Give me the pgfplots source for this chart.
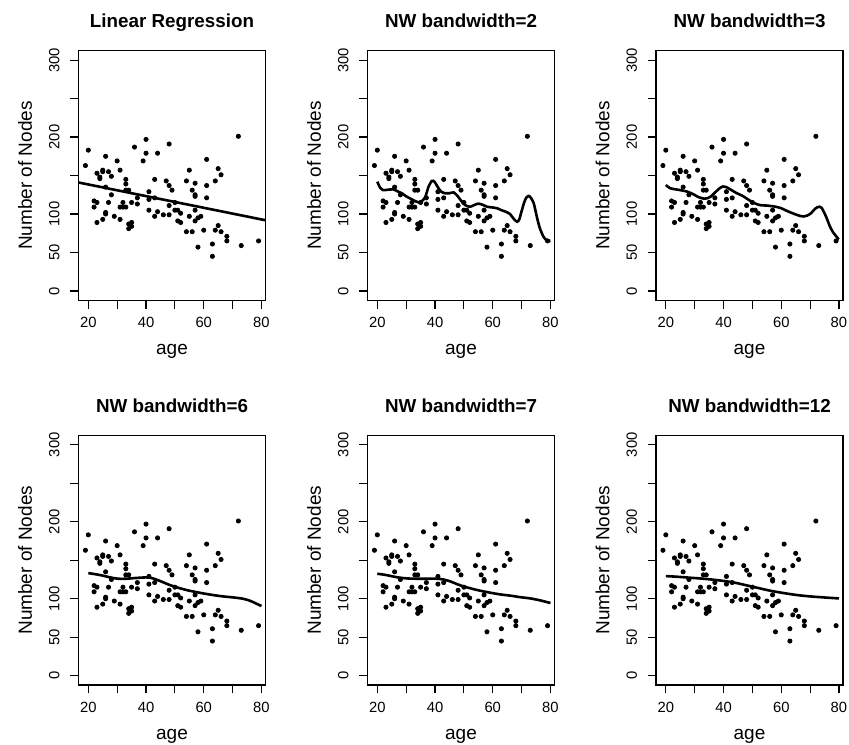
\documentclass[border=0pt]{standalone}
\usepackage{fontspec}
\setmainfont{Liberation Sans}
\usepackage{pgfplots}
\usepackage{pgfplotstable}
\pgfplotsset{compat=1.18}

\pgfplotstableread{
x y
19 163
20 183
22 109
22 117
23 115
23 89
23 153
24 148
24 146
25 157
25 155
25 93
26 100
26 102
26 175
26 135
27 155
27 115
28 149
28 125
29 97
30 169
31 109
31 157
31 93
32 109
33 109
32 115
33 145
33 139
33 131
34 131
34 87
34 81
35 89
35 84
35 115
36 187
37 121
37 113
39 169
40 197
40 179
41 129
41 119
41 105
43 145
43 121
43 97
44 103
44 179
46 99
47 143
48 137
48 191
48 111
48 99
49 131
50 115
50 105
51 105
51 91
52 101
52 89
54 143
54 77
55 157
55 97
56 131
56 77
57 140
57 125
57 123
57 105
57 91
58 95
59 97
58 57
60 79
61 171
61 137
61 121
63 61
63 45
64 143
64 79
65 159
65 85
66 151
66 77
68 71
68 65
72 201
73 59
79 65
}\pts

\pgfplotstableread{
x y
16.6 141.0
81.4 91.9
}\lin

\pgfplotstableread{
x y
20 142
21 134
22 131
23.5 131.5
25.5 132
27 129.5
28.5 127
30 123
31.5 120
33 117
34.5 115
35.5 117
36.6 122
37.8 136
38.9 143
39.8 142
40.8 136
42 129.5
43.5 127
45 127
46.5 128
48 122.5
49.5 115
50.7 111
52.2 109.5
53.5 111.5
55 113.5
56.5 112
58 109.5
60 108.5
61.5 107.5
63 105
64.5 103
66 100
66.7 96.5
67.7 92
68.5 90
69.2 93
69.8 101
70.8 114
71.6 121
72.5 123.5
73.2 121
74.2 114
75.4 94.4
76.2 83
76.8 77
77.5 71
78.3 67.1
79 65.3
80 65.3
}\bwtwo

\pgfplotstableread{
x y
20 137.7
21.5 133.5
23.5 132
26.1 130.3
27.5 129
29.6 125.6
31.3 122
33.2 120
34.2 120.3
35.5 122.5
36.8 127
38.5 133
39.8 135.8
41.2 134.5
42.8 131
44.6 127
46.4 124
48.7 118.5
50.5 114.5
52.7 111.5
55 111
58 109.5
60 107.5
62 104
64.3 100.4
66.5 97.5
67.8 96.8
69 98
70.3 101
71.5 106
72.5 108.8
73.3 109.5
74 108
74.6 104
75.6 96
76.9 83.5
78 76
78.7 72.7
79.8 67.5
80 67
}\bwthree

\pgfplotstableread{
x y
20 133.3
23.8 131
27.3 128
30.2 126
33.1 126
36.6 127
40 127.7
41.8 127
43.5 125
45.8 121.6
48.1 118
50.5 115
53.3 112
56.2 109.5
59.7 107
63.2 104.8
66.7 103
70.2 101.7
73.6 100
76 97.4
78.3 93.5
80 90.5
}\bwsix

\pgfplotstableread{
x y
20 132.5
23.2 130.7
26.7 128
30.2 126.4
33.7 126
37.1 126
40.6 126
42.9 125
45.3 122.5
47.6 119
49.9 116
52.8 113
55.7 110.4
59.2 107.8
62.6 105.6
66.1 104
69.6 102
73 100.4
76.5 97.8
80 94.4
}\bwseven

\pgfplotstableread{
x y
20 129.4
23.8 128.6
28.4 127.3
33 126
37.7 124.2
41.2 122.5
44.6 120.3
48.1 117.3
51.6 114.3
56.2 110.4
60.8 107.4
65.4 104.8
70.1 103
74.7 101.7
80 100.4
}\bwtwelve

\pgfplotsset{
  rpanel/.style={
    scale only axis,
    width=93.5pt, height=124.65pt,
    anchor=south west,
    xmin=16.6, xmax=81.4, ymin=-12, ymax=312,
    axis line style={line width=0.6pt},
    xtick={20,30,...,80}, xticklabels={20,,40,,60,,80},
    ytick={0,50,...,300}, yticklabels={0,50,100,,200,,300},
    xtick pos=bottom, ytick pos=left,
    tick align=outside, major tick length=4.25pt,
    tick style={line width=0.6pt, black},
    ticklabel style={font=\fontsize{7.4}{8}\selectfont},
    xticklabel style={anchor=north, inner sep=0pt, yshift=-4pt},
    yticklabel style={xshift=-5pt, rotate=90, anchor=south, inner sep=0pt},
    xlabel={age}, ylabel={Number of Nodes},
    label style={font=\fontsize{9.5}{11}\selectfont},
    xlabel style={at={(axis description cs:0.5,-0.218)}, anchor=base, inner sep=0pt},
    ylabel style={at={(axis description cs:-0.25,0.5)}, anchor=base, inner sep=0pt},
    every axis title shift=0pt,
    title style={at={(axis description cs:0.5,1.094)}, anchor=base, inner sep=0pt, font=\bfseries\fontsize{9.4}{11}\selectfont},
    clip=true,
  },
  dots/.style={only marks, mark=*, mark size=1.05pt, black},
  fit/.style={black, line width=1.3pt, no marks},
}

\begin{document}
\begin{tikzpicture}
\path[use as bounding box] (0,0) rectangle (424.5pt,372pt);

\begin{axis}[rpanel, at={(39.25pt,221.9pt)}, title={Linear Regression}]
\addplot[dots] table[x=x,y=y] {\pts};
\addplot[fit] table[x=x,y=y] {\lin};
\end{axis}

\begin{axis}[rpanel, at={(183.75pt,221.9pt)}, title={NW bandwidth=2}]
\addplot[dots] table[x=x,y=y] {\pts};
\addplot[fit, smooth] table[x=x,y=y] {\bwtwo};
\end{axis}

\begin{axis}[rpanel, at={(328pt,221.9pt)}, title={NW bandwidth=3}]
\addplot[dots] table[x=x,y=y] {\pts};
\addplot[fit, smooth] table[x=x,y=y] {\bwthree};
\end{axis}

\begin{axis}[rpanel, at={(39.25pt,29.55pt)}, title={NW bandwidth=6}]
\addplot[dots] table[x=x,y=y] {\pts};
\addplot[fit, smooth] table[x=x,y=y] {\bwsix};
\end{axis}

\begin{axis}[rpanel, at={(183.75pt,29.55pt)}, title={NW bandwidth=7}]
\addplot[dots] table[x=x,y=y] {\pts};
\addplot[fit, smooth] table[x=x,y=y] {\bwseven};
\end{axis}

\begin{axis}[rpanel, at={(328pt,29.55pt)}, title={NW bandwidth=12}]
\addplot[dots] table[x=x,y=y] {\pts};
\addplot[fit, smooth] table[x=x,y=y] {\bwtwelve};
\end{axis}
\end{tikzpicture}
\end{document}
